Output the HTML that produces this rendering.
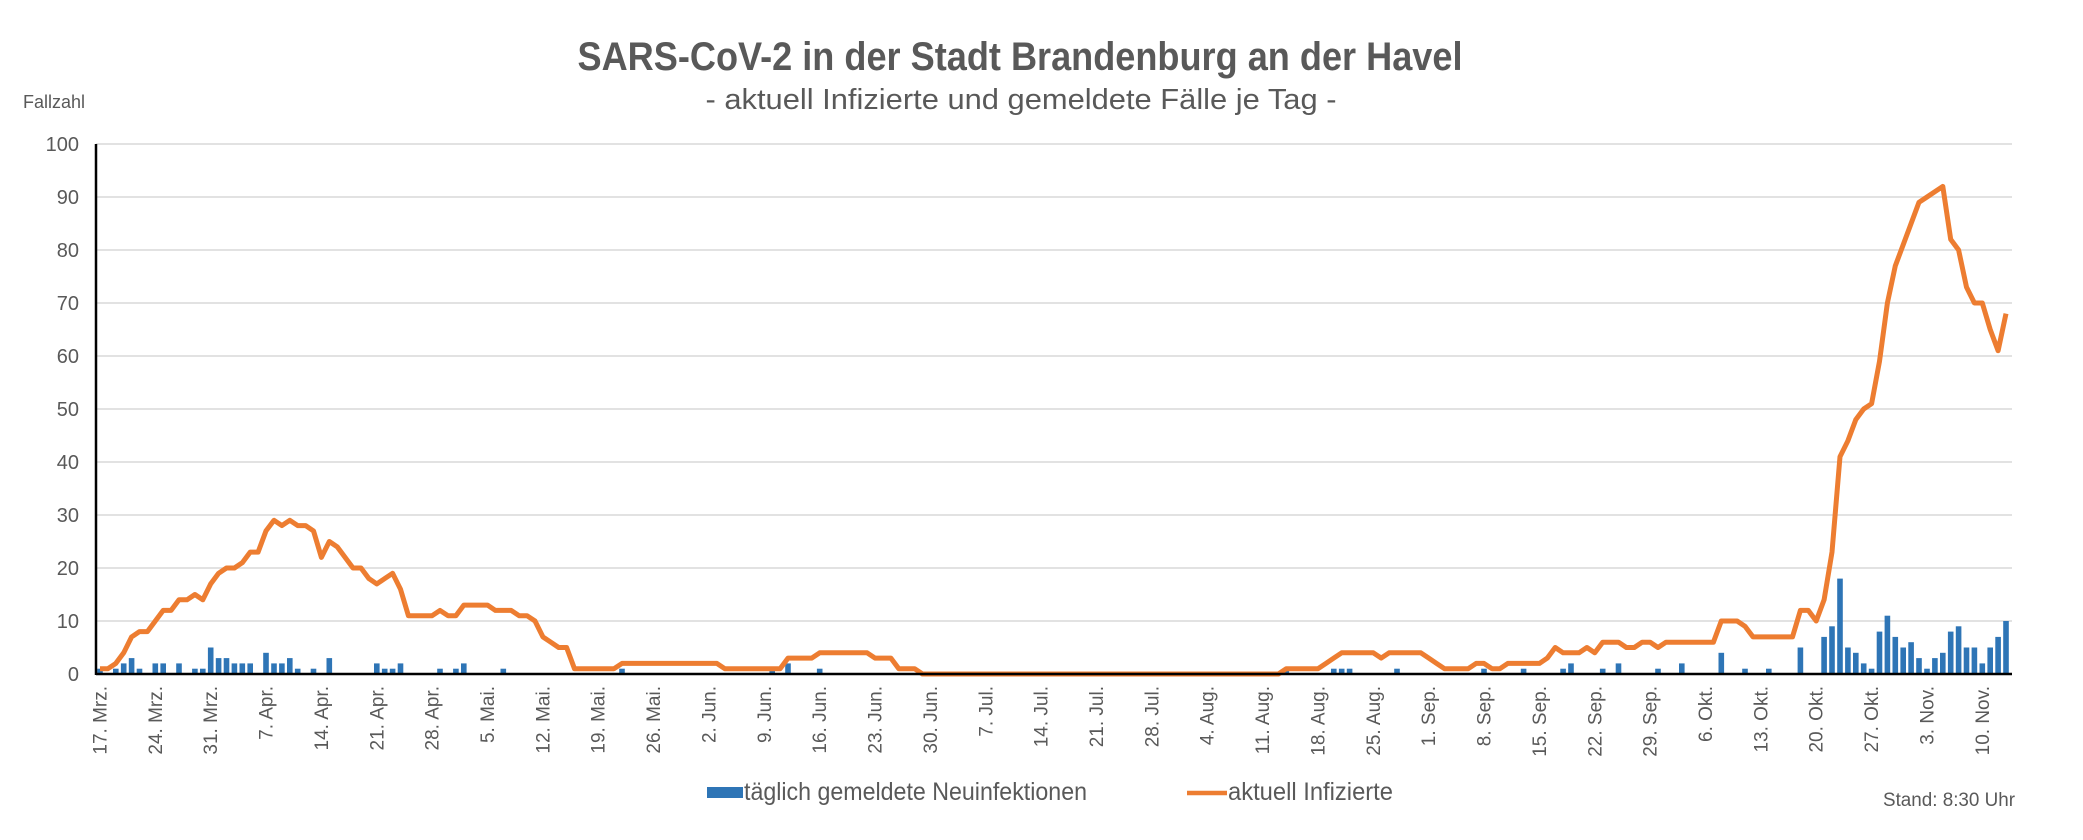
<!DOCTYPE html>
<html><head><meta charset="utf-8">
<style>
html,body{margin:0;padding:0;background:#fff;}
svg{display:block;}
text{font-family:"Liberation Sans",sans-serif;fill:#595959;}
</style></head>
<body>
<svg id="c" width="2083" height="840" viewBox="0 0 2083 840" xmlns="http://www.w3.org/2000/svg">
<rect width="2083" height="840" fill="#fff"/>
<text x="1020" y="70" text-anchor="middle" font-size="40" font-weight="bold" textLength="885" lengthAdjust="spacingAndGlyphs">SARS-CoV-2 in der Stadt Brandenburg an der Havel</text>
<text x="1021" y="109" text-anchor="middle" font-size="29" textLength="631" lengthAdjust="spacingAndGlyphs">- aktuell Infizierte und gemeldete Fälle je Tag -</text>
<text x="23" y="108" font-size="18" textLength="62" lengthAdjust="spacingAndGlyphs">Fallzahl</text>
<g id="grid"></g>
<g font-size="20" text-anchor="end" id="ylab">
<text x="79" y="151">100</text><text x="79" y="204">90</text><text x="79" y="257">80</text><text x="79" y="310">70</text><text x="79" y="363">60</text><text x="79" y="416">50</text><text x="79" y="469">40</text><text x="79" y="522">30</text><text x="79" y="575">20</text><text x="79" y="628">10</text><text x="79" y="681">0</text>
</g>
<g id="bars" fill="#2e75b6"></g>
<polyline id="line" fill="none" stroke="#ed7d31" stroke-width="5" stroke-linejoin="round"/>
<line x1="96" y1="674" x2="2012" y2="674" stroke="#000" stroke-width="2.5"/>
<line x1="96" y1="144" x2="96" y2="675" stroke="#000" stroke-width="2.5"/>
<g id="xlab" font-size="19" text-anchor="end">
<text>17. Mrz.</text><text>24. Mrz.</text><text>31. Mrz.</text><text>7. Apr.</text><text>14. Apr.</text><text>21. Apr.</text><text>28. Apr.</text><text>5. Mai.</text><text>12. Mai.</text><text>19. Mai.</text><text>26. Mai.</text><text>2. Jun.</text><text>9. Jun.</text><text>16. Jun.</text><text>23. Jun.</text><text>30. Jun.</text><text>7. Jul.</text><text>14. Jul.</text><text>21. Jul.</text><text>28. Jul.</text><text>4. Aug.</text><text>11. Aug.</text><text>18. Aug.</text><text>25. Aug.</text><text>1. Sep.</text><text>8. Sep.</text><text>15. Sep.</text><text>22. Sep.</text><text>29. Sep.</text><text>6. Okt.</text><text>13. Okt.</text><text>20. Okt.</text><text>27. Okt.</text><text>3. Nov.</text><text>10. Nov.</text>
</g>
<rect x="707" y="787" width="36" height="11" fill="#2e75b6"/>
<text x="744" y="800" font-size="25" textLength="343" lengthAdjust="spacingAndGlyphs">täglich gemeldete Neuinfektionen</text>
<line x1="1187" y1="793" x2="1227" y2="793" stroke="#ed7d31" stroke-width="4.5"/>
<text x="1228" y="800" font-size="25" textLength="165" lengthAdjust="spacingAndGlyphs">aktuell Infizierte</text>
<text x="1883" y="806" font-size="19" textLength="132" lengthAdjust="spacingAndGlyphs">Stand: 8:30 Uhr</text>
</svg>
<script>
(function(){
var NS="http://www.w3.org/2000/svg";
var W=1914/242;
function X(d){return 96+(d+0.5)*W;}
function Y(v){return 674-5.3*v;}
var g=document.getElementById("grid");
for(var i=1;i<=10;i++){var l=document.createElementNS(NS,"line");l.setAttribute("x1",96);l.setAttribute("x2",2012);l.setAttribute("y1",Y(i*10));l.setAttribute("y2",Y(i*10));l.setAttribute("stroke","#d9d9d9");l.setAttribute("stroke-width","1.5");g.appendChild(l);}
var v=[1,1,2,4,7,8,8,10,12,12,14,14,15,14,17,
19,20,20,21,23,23,27,29,28,29,28,28,27,22,25,24,22,20,20,18,17,18,19,16,11,11,11,11,12,11,
11,13,13,13,13,12,12,12,11,11,10,7,6,5,5];
function run(val,to){while(v.length<=to)v.push(val);}
run(1,65);run(2,78);run(1,86);run(3,90);run(4,97);run(3,100);run(1,103);run(0,149);run(1,154);run(2,155);run(3,156);run(4,161);run(3,162);run(4,167);run(3,168);run(2,169);run(1,173);run(2,175);run(1,177);run(2,182);run(3,183);run(5,184);run(4,187);run(5,188);run(4,189);run(6,192);run(5,194);run(6,196);run(5,197);run(6,204);run(10,207);run(9,208);run(7,214);
v=v.concat([12,12,10,14,23,41,44,48,50,51,59,70,77,81,85,89,90,91,92,82,80,73,70,70,65,61,68]);
var pts=[];for(var d=0;d<v.length;d++)pts.push(X(d).toFixed(1)+","+Y(v[d]).toFixed(1));
document.getElementById("line").setAttribute("points",pts.join(" "));
var b={0:1,2:1,3:2,4:3,5:1,7:2,8:2,10:2,12:1,13:1,14:5,15:3,16:3,17:2,18:2,19:2,21:4,22:2,23:2,24:3,25:1,27:1,29:3,35:2,36:1,37:1,38:2,43:1,45:1,46:2,51:1,66:1,85:1,87:2,91:1,150:1,156:1,157:1,158:1,164:1,175:1,180:1,185:1,186:2,190:1,192:2,197:1,200:2,205:4,208:1,211:1,215:5,218:7,219:9,220:18,221:5,222:4,223:2,224:1,225:8,226:11,227:7,228:5,229:6,230:3,231:1,232:3,233:4,234:8,235:9,236:5,237:5,238:2,239:5,240:7,241:10};
var bg=document.getElementById("bars");
for(var k in b){var r=document.createElementNS(NS,"rect");var d=+k;r.setAttribute("x",(X(d)-2.8).toFixed(1));r.setAttribute("width","5.6");r.setAttribute("y",Y(b[k]).toFixed(1));r.setAttribute("height",(5.3*b[k]).toFixed(1));bg.appendChild(r);}
var t=document.getElementById("xlab").getElementsByTagName("text");
for(var i=0;i<t.length;i++){var x=X(i*7)+6.5;t[i].setAttribute("transform","translate("+x.toFixed(1)+",686) rotate(-90)");}
})();
</script>
</body></html>
